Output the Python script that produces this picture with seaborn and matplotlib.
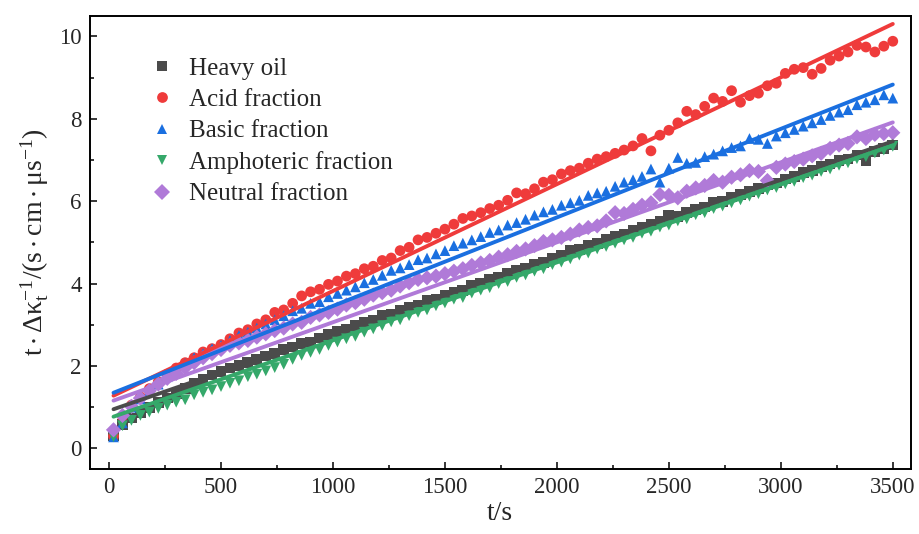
import numpy as np
import pandas as pd
import matplotlib
matplotlib.use("Agg")
import matplotlib.pyplot as plt
import seaborn as sns

# sample times (s), one reading every 40 s
t = np.arange(20, 3501, 40)

heavy_oil = [0.30, 0.58, 0.74, 0.88, 1.00, 1.12, 1.22, 1.34, 1.45, 1.58,
             1.68, 1.78, 1.86, 1.95, 2.02, 2.08, 2.16, 2.24, 2.30, 2.40,
             2.46, 2.55, 2.58, 2.68, 2.76, 2.84, 2.90, 2.98, 3.06, 3.10,
             3.22, 3.26, 3.34, 3.43, 3.47, 3.58, 3.62, 3.72, 3.78, 3.84,
             3.96, 4.00, 4.10, 4.14, 4.24, 4.32, 4.38, 4.46, 4.52, 4.62,
             4.68, 4.80, 4.82, 4.92, 4.98, 5.06, 5.14, 5.20, 5.30, 5.36,
             5.44, 5.52, 5.66, 5.62, 5.72, 5.80, 5.86, 5.96, 6.00, 6.10,
             6.16, 6.24, 6.30, 6.40, 6.44, 6.54, 6.60, 6.70, 6.74, 6.84,
             6.90, 6.98, 7.02, 7.12, 6.98, 7.20, 7.28, 7.36]

acid = [0.30, 0.78, 1.05, 1.25, 1.45, 1.62, 1.80, 1.95, 2.08, 2.20,
        2.34, 2.42, 2.52, 2.66, 2.80, 2.88, 3.02, 3.12, 3.30, 3.36,
        3.52, 3.70, 3.80, 3.86, 3.98, 4.06, 4.18, 4.24, 4.36, 4.42,
        4.56, 4.62, 4.80, 4.88, 5.06, 5.12, 5.22, 5.32, 5.44, 5.58,
        5.64, 5.72, 5.82, 5.90, 6.02, 6.20, 6.18, 6.30, 6.46, 6.52,
        6.66, 6.74, 6.80, 6.92, 7.02, 7.08, 7.16, 7.24, 7.34, 7.52,
        7.22, 7.60, 7.72, 7.90, 8.18, 8.10, 8.30, 8.50, 8.42, 8.68,
        8.40, 8.56, 8.62, 8.80, 8.86, 9.10, 9.20, 9.24, 9.08, 9.22,
        9.42, 9.52, 9.62, 9.78, 9.74, 9.62, 9.76, 9.88]

basic = [0.28, 0.62, 1.00, 1.20, 1.38, 1.56, 1.74, 1.90, 2.06, 2.20,
         2.30, 2.42, 2.50, 2.62, 2.74, 2.82, 2.92, 3.02, 3.12, 3.22,
         3.34, 3.40, 3.52, 3.56, 3.68, 3.76, 3.84, 3.92, 4.02, 4.10,
         4.20, 4.32, 4.38, 4.46, 4.58, 4.62, 4.72, 4.80, 4.92, 4.98,
         5.06, 5.14, 5.24, 5.30, 5.42, 5.48, 5.56, 5.66, 5.74, 5.80,
         5.90, 5.96, 6.02, 6.14, 6.20, 6.24, 6.36, 6.46, 6.52, 6.60,
         6.78, 6.46, 6.80, 7.06, 6.92, 6.94, 7.08, 7.14, 7.22, 7.30,
         7.34, 7.52, 7.50, 7.40, 7.58, 7.66, 7.74, 7.82, 7.90, 7.98,
         8.08, 8.16, 8.22, 8.34, 8.40, 8.46, 8.58, 8.50]

amphoteric = [0.28, 0.55, 0.68, 0.80, 0.88, 0.97, 1.05, 1.12, 1.18, 1.30,
              1.36, 1.42, 1.50, 1.58, 1.64, 1.74, 1.80, 1.88, 1.96, 2.04,
              2.16, 2.26, 2.33, 2.40, 2.50, 2.58, 2.66, 2.72, 2.82, 2.90,
              2.98, 3.07, 3.12, 3.22, 3.30, 3.36, 3.46, 3.53, 3.62, 3.66,
              3.77, 3.84, 3.90, 4.00, 4.05, 4.15, 4.21, 4.30, 4.36, 4.46,
              4.52, 4.60, 4.69, 4.74, 4.84, 4.90, 4.98, 5.06, 5.12, 5.22,
              5.27, 5.37, 5.42, 5.52, 5.57, 5.67, 5.72, 5.82, 5.88, 5.96,
              6.03, 6.12, 6.18, 6.27, 6.33, 6.42, 6.48, 6.57, 6.63, 6.72,
              6.78, 6.87, 6.93, 7.03, 7.08, 7.17, 7.24, 7.33]

neutral = [0.45, 0.80, 1.02, 1.22, 1.40, 1.56, 1.70, 1.82, 1.96, 2.08,
           2.20, 2.30, 2.40, 2.50, 2.56, 2.62, 2.70, 2.78, 2.86, 2.92,
           3.02, 3.06, 3.18, 3.24, 3.30, 3.38, 3.48, 3.54, 3.62, 3.72,
           3.78, 3.84, 3.94, 4.02, 4.10, 4.14, 4.18, 4.24, 4.30, 4.36,
           4.44, 4.50, 4.56, 4.64, 4.70, 4.78, 4.84, 4.92, 5.02, 5.06,
           5.12, 5.20, 5.30, 5.36, 5.40, 5.52, 5.72, 5.70, 5.80, 5.90,
           5.96, 6.16, 6.14, 6.08, 6.24, 6.32, 6.38, 6.50, 6.46, 6.58,
           6.64, 6.74, 6.72, 6.50, 6.82, 6.90, 6.96, 7.02, 7.10, 7.16,
           7.28, 7.36, 7.40, 7.56, 7.52, 7.62, 7.64, 7.66]

labels = ["Heavy oil", "Acid fraction", "Basic fraction",
          "Amphoteric fraction", "Neutral fraction"]
colors = ["#4b4b4b", "#ef3b3b", "#1a6fe0", "#35a86a", "#b07ad8"]
markers = ["s", "o", "^", "v", "D"]

# linear fits: value at t=0 and slope
fit_intercept = [0.913, 1.228, 1.307, 0.732, 1.121]
fit_slope = [0.001868, 0.002592, 0.002149, 0.001891, 0.001940]

series = [heavy_oil, acid, basic, amphoteric, neutral]
df = pd.concat([pd.DataFrame({"t": t, "y": v, "sample": name})
                for name, v in zip(labels, series)], ignore_index=True)

sns.set_theme(style="ticks")
plt.rcParams["font.family"] = ["Liberation Serif", "DejaVu Serif"]
plt.rcParams["mathtext.fontset"] = "custom"
plt.rcParams["mathtext.rm"] = "Liberation Serif"
plt.rcParams["mathtext.it"] = "Liberation Serif:italic"

fig = plt.figure(figsize=(9.2, 5.34), dpi=100)
ax = fig.add_axes([90 / 920, 65 / 534, 820.7 / 920, 453.3 / 534])

sns.scatterplot(data=df, x="t", y="y", hue="sample", style="sample",
                palette=dict(zip(labels, colors)),
                markers=dict(zip(labels, markers)),
                s=60, linewidth=0, ax=ax, zorder=2)

t_fit = np.array([t[0], t[-1]])
for a, b, c in zip(fit_intercept, fit_slope, colors):
    sns.lineplot(x=t_fit, y=a + b * t_fit, color=c, lw=2.8, ax=ax,
                 legend=False, zorder=3)

handles, _ = ax.get_legend_handles_labels()
ax.legend(handles, labels, loc="upper left", bbox_to_anchor=(0.072, 0.908),
          frameon=False, fontsize=18, handlelength=1.0, handletextpad=0.6,
          labelspacing=0.35, borderpad=0, borderaxespad=0, markerscale=1.0)

ax.set_xlim(-85, 3580)
ax.set_ylim(-0.5, 10.5)
ax.set_xticks(np.arange(0, 3501, 500))
ax.set_xticks(np.arange(250, 3500, 500), minor=True)
ax.set_yticks(np.arange(0, 11, 2))
ax.set_yticks(np.arange(1, 11, 2), minor=True)
ax.tick_params(which="both", direction="in", width=1.3, labelsize=16.5,
               top=False, right=False)
ax.tick_params(which="major", length=5, pad=6)
ax.tick_params(which="minor", length=3)
for sp in ax.spines.values():
    sp.set_linewidth(1.4)
    sp.set_color("black")

ax.set_xlabel("t/s", fontsize=20, labelpad=2)
ax.set_ylabel(r"$\mathregular{t\cdot\Delta\kappa_t^{-1}/(s\cdot cm\cdot\mu s^{-1})}$",
              fontsize=20, labelpad=6)

fig.savefig("out.png", dpi=100)
